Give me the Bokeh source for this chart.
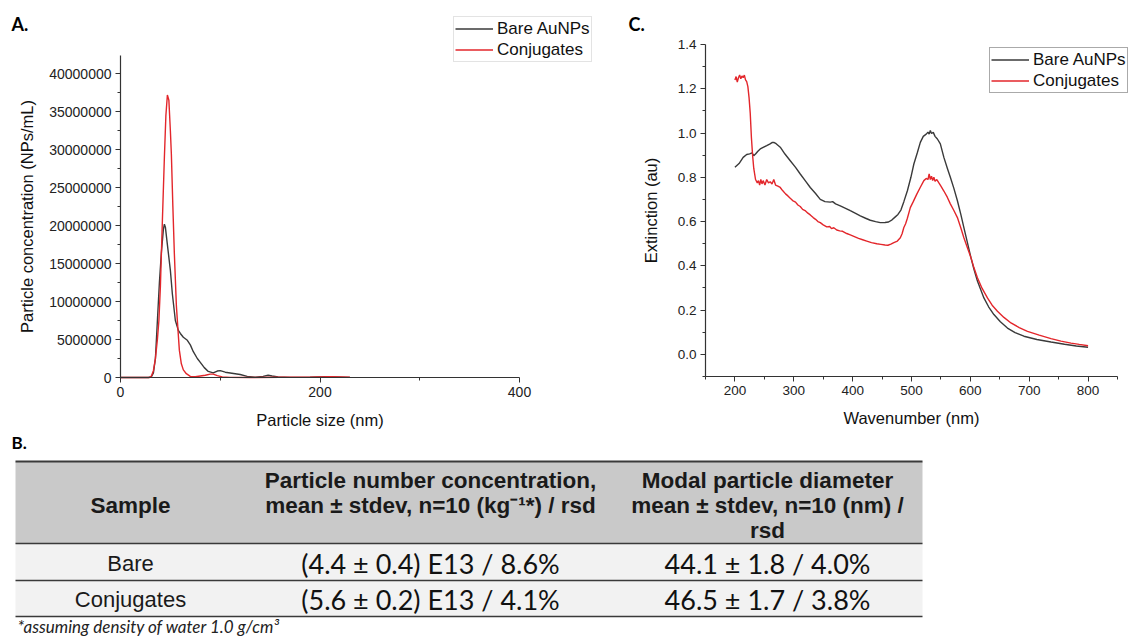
from bokeh.plotting import figure
from bokeh.models import Range1d, FixedTicker, NumeralTickFormatter, Legend, LegendItem, Label
from bokeh.layouts import column, row
from bokeh.embed import file_html
from bokeh.resources import INLINE
from bokeh.core.properties import value

# ---------------- Panel A data: particle size distribution ----------------
bare_size = [0, 28, 31, 33, 35, 37, 39, 41, 43, 44, 45, 47, 50, 52, 55, 58, 60, 63, 67, 70, 73,
             77, 80, 84, 88, 93, 97, 100, 105, 110, 115, 120, 127, 135, 143, 148, 152, 158, 170,
             190, 205, 215, 230]
bare_conc = [0, 0, 0.1e6, 0.6e6, 2.5e6, 7.5e6, 12.5e6, 16.5e6, 19.5e6, 20.2e6, 19.8e6, 17.5e6,
             14.1e6, 11.0e6, 7.5e6, 6.2e6, 5.8e6, 5.3e6, 4.9e6, 4.3e6, 3.4e6, 2.5e6, 2.0e6, 1.3e6,
             0.8e6, 0.6e6, 0.85e6, 0.9e6, 0.7e6, 0.6e6, 0.5e6, 0.4e6, 0.15e6, 0.05e6, 0.15e6, 0.3e6,
             0.2e6, 0.08e6, 0.02e6, 0.05e6, 0.1e6, 0.08e6, 0.02e6]
conj_size = [0, 29, 31, 33, 35, 37, 38.5, 40, 42, 44, 45.5, 47, 48.5, 50, 51, 52.5, 54, 56, 57.5,
             59, 61, 63, 66, 70, 75, 80, 85, 90, 93, 97, 102, 110, 130, 160, 190, 210, 230]
conj_conc = [0, 0, 0.2e6, 0.9e6, 2.5e6, 5.0e6, 7.5e6, 12e6, 20.7e6, 29e6, 34.5e6, 37.2e6, 36.5e6,
             32.5e6, 29.4e6, 22.5e6, 16.3e6, 9.5e6, 6.5e6, 3.6e6, 1.8e6, 1.0e6, 0.5e6, 0.15e6,
             0.1e6, 0.2e6, 0.3e6, 0.45e6, 0.45e6, 0.25e6, 0.08e6, 0.02e6, 0.0, 0.03e6, 0.05e6,
             0.1e6, 0.03e6]
a_yticks = [0, 5e6, 10e6, 15e6, 20e6, 25e6, 30e6, 35e6, 40e6]
a_xticks = [0, 200, 400]

# ---------------- Panel C data: extinction spectra ----------------
bare_wl = [200, 207, 214, 220, 225, 229, 232, 235, 239, 243, 248, 254, 259, 263, 266, 270, 277,
           285, 294, 303, 311, 320, 328, 337, 345, 353, 362, 366, 371, 379, 388, 396, 405, 413,
           422, 430, 439, 447, 455, 461, 467, 472, 477, 482, 487, 493, 499, 504, 510, 515, 520,
           525, 528, 530, 532, 534, 537, 540, 544, 549, 555, 561, 566, 572, 578, 584, 589, 595,
           601, 606, 612, 618, 623, 631, 640, 651, 663, 676, 691, 713, 737, 760, 780, 800]
bare_ext = [0.845, 0.862, 0.89, 0.903, 0.906, 0.91, 0.898, 0.905, 0.918, 0.928, 0.935, 0.943,
            0.95, 0.957, 0.958, 0.952, 0.936, 0.905, 0.875, 0.845, 0.815, 0.783, 0.754, 0.727,
            0.70, 0.69, 0.688, 0.69, 0.68, 0.671, 0.66, 0.649, 0.637, 0.626, 0.615, 0.606, 0.60,
            0.595, 0.596, 0.598, 0.608, 0.62, 0.632, 0.652, 0.69, 0.739, 0.80, 0.86, 0.912, 0.958,
            0.985, 0.995, 1.004, 0.995, 1.012, 0.998, 1.003, 0.985, 0.973, 0.951, 0.89, 0.84,
            0.80, 0.75, 0.694, 0.63, 0.573, 0.505, 0.437, 0.385, 0.331, 0.29, 0.255, 0.215, 0.18,
            0.147, 0.119, 0.098, 0.082, 0.067, 0.056, 0.046, 0.038, 0.032]
conj_wl = [200, 202, 204, 206, 208, 210, 212, 214, 216, 218, 220, 222, 224, 226, 228, 230, 232,
           235, 238, 240, 242, 244, 246, 248, 251, 254, 257, 260, 263, 266, 269, 273, 277, 281,
           286, 290, 294, 298, 303, 307, 311, 315, 320, 324, 328, 333, 337, 341, 345, 350, 356,
           361, 364, 368, 373, 378, 383, 390, 396, 403, 410, 417, 424, 432, 441, 448, 455, 460,
           465, 470, 476, 481, 484, 487, 490, 493, 498, 503, 509, 515, 521, 525, 528, 530, 532,
           534, 536, 538, 540, 543, 546, 550, 555, 561, 566, 572, 578, 584, 589, 595, 601, 606,
           612, 620, 629, 637, 646, 657, 669, 683, 697, 717, 737, 754, 771, 785, 800]
conj_ext = [1.24, 1.255, 1.23, 1.25, 1.262, 1.245, 1.258, 1.25, 1.262, 1.24, 1.232, 1.21, 1.16,
            1.09, 0.98, 0.90, 0.84, 0.79, 0.775, 0.785, 0.765, 0.79, 0.77, 0.785, 0.765, 0.79,
            0.775, 0.78, 0.77, 0.79, 0.765, 0.76, 0.754, 0.74, 0.725, 0.716, 0.705, 0.695, 0.688,
            0.675, 0.668, 0.655, 0.648, 0.638, 0.63, 0.618, 0.61, 0.60, 0.595, 0.585, 0.576,
            0.578, 0.568, 0.572, 0.562, 0.558, 0.556, 0.546, 0.54, 0.532, 0.524, 0.518, 0.512,
            0.505, 0.50, 0.497, 0.494, 0.493, 0.498, 0.505, 0.512, 0.527, 0.545, 0.573, 0.59,
            0.615, 0.663, 0.69, 0.724, 0.755, 0.785, 0.795, 0.79, 0.815, 0.79, 0.805, 0.785, 0.80,
            0.782, 0.79, 0.777, 0.76, 0.738, 0.709, 0.68, 0.65, 0.618, 0.57, 0.527, 0.482, 0.437,
            0.392, 0.346, 0.298, 0.255, 0.222, 0.195, 0.167, 0.142, 0.121, 0.104, 0.087, 0.071,
            0.06, 0.051, 0.045, 0.039]
c_xticks = [200, 300, 400, 500, 600, 700, 800]
c_yticks = [0.0, 0.2, 0.4, 0.6, 0.8, 1.0, 1.2, 1.4]

series_names = ["Bare AuNPs", "Conjugates"]

# ---------------- Panel B data: table ----------------
table_headers = [["Sample"],
                 ["Particle number concentration,", "mean \u00b1 stdev, n=10 (kg\u207b\u00b9*) / rsd"],
                 ["Modal particle diameter", "mean \u00b1 stdev, n=10 (nm) /", "rsd"]]
samples = ["Bare", "Conjugates"]
concentration = ["(4.4 \u00b1 0.4) E13 / 8.6%", "(5.6 \u00b1 0.2) E13 / 4.1%"]
diameter = ["44.1 \u00b1 1.8 / 4.0%", "46.5 \u00b1 1.7 / 3.8%"]
footnote = "*assuming density of water 1.0 g/cm\u00b3"

BLACK = "#3a3a3a"
RED = "#e3262b"
AXC = "#333333"


def frame_range(v0, p0, v1, p1, size, flip=False):
    """Range for a frame covering the whole canvas, given two (value, pixel) anchors.
    For y (flip=True) pixels count from the top."""
    k = (v1 - v0) / (p1 - p0)
    lo = v0 + (0 - p0) * k
    hi = v0 + (size - p0) * k
    return Range1d(hi, lo) if flip else Range1d(lo, hi)


def style_axes(p, tick_size):
    p.outline_line_color = None
    p.xgrid.visible = False
    p.ygrid.visible = False
    p.background_fill_color = "white"
    p.border_fill_color = "white"
    for ax in (p.xaxis[0], p.yaxis[0]):
        ax.axis_line_color = AXC
        ax.axis_line_width = 1.2
        ax.major_tick_line_color = AXC
        ax.minor_tick_line_color = AXC
        ax.major_tick_out = 5
        ax.major_tick_in = 0
        ax.minor_tick_out = 3
        ax.minor_tick_in = 0
        ax.major_label_text_font = "Liberation Sans"
        ax.major_label_text_font_size = tick_size
        ax.major_label_text_color = "#222222"
        ax.major_label_standoff = 4
        ax.axis_label_text_font = "Liberation Sans"
        ax.axis_label_text_font_size = "16.5px"
        ax.axis_label_text_font_style = "normal"
        ax.axis_label_text_color = "#111111"


def make_legend(p, renderers, loc, border):
    leg = Legend(items=[LegendItem(label=n, renderers=[r]) for n, r in zip(series_names, renderers)],
                 location=loc, orientation="vertical")
    leg.label_text_font = "Liberation Sans"
    leg.label_text_font_size = "17px"
    leg.label_text_color = "#111111"
    leg.glyph_width = 38
    leg.glyph_height = 21
    leg.label_height = 21
    leg.label_standoff = 4
    leg.spacing = 0
    leg.padding = 1
    leg.margin = 0
    leg.border_line_color = border
    leg.border_line_width = 1
    leg.background_fill_color = "white"
    leg.background_fill_alpha = 1
    p.add_layout(leg)


def panel_label(p, text, sx, sy_top, height):
    p.add_layout(Label(x=sx, y=height - sy_top, x_units="screen", y_units="screen", text=text,
                       text_font="Lato", text_font_style="bold", text_font_size="18px",
                       text_baseline="middle", text_color="#000000"))


# ---------------- Panel A ----------------
WA, HA = 600, 430
pA = figure(width=WA, height=HA,
            x_range=frame_range(0, 120, 400, 519, WA),
            y_range=frame_range(0, 377, 42.4e6, 55, HA, flip=True),
            output_backend="svg", toolbar_location=None, title=None, min_border=0)
style_axes(pA, "14px")
pA.xaxis[0].fixed_location = 0
pA.yaxis[0].fixed_location = 0
pA.xaxis[0].bounds = (0, 400)
pA.yaxis[0].bounds = (0, 42.4e6)
pA.xaxis[0].ticker = FixedTicker(ticks=a_xticks, minor_ticks=[100, 300])
pA.yaxis[0].ticker = FixedTicker(ticks=a_yticks,
                                 minor_ticks=[t + 2.5e6 for t in a_yticks[:-1]])
pA.yaxis[0].formatter = NumeralTickFormatter(format="0")
pA.xaxis[0].axis_label = "Particle size (nm)"
pA.yaxis[0].axis_label = "Particle concentration (NPs/mL)"
pA.xaxis[0].axis_label_standoff = 11
pA.yaxis[0].axis_label_standoff = 10
ra1 = pA.line(bare_size, bare_conc, line_color=BLACK, line_width=1.4)
ra2 = pA.line(conj_size, conj_conc, line_color=RED, line_width=1.4)
make_legend(pA, [ra1, ra2], (453, HA - 62), "#c8c8c8")
panel_label(pA, "A.", 11, 23, HA)

# ---------------- Panel C ----------------
WC, HC = 532, 430
pC = figure(width=WC, height=HC,
            x_range=frame_range(150, 105, 850, 517, WC),
            y_range=frame_range(-0.1, 376, 1.4, 44, HC, flip=True),
            output_backend="svg", toolbar_location=None, title=None, min_border=0)
style_axes(pC, "13.5px")
pC.xaxis[0].fixed_location = -0.1
pC.yaxis[0].fixed_location = 150
pC.xaxis[0].bounds = (150, 850)
pC.yaxis[0].bounds = (-0.1, 1.4)
pC.xaxis[0].ticker = FixedTicker(ticks=c_xticks, minor_ticks=[150 + 100 * i for i in range(8)])
pC.yaxis[0].ticker = FixedTicker(ticks=c_yticks,
                                 minor_ticks=[-0.1 + 0.2 * i for i in range(8)])
pC.yaxis[0].formatter = NumeralTickFormatter(format="0.0")
pC.xaxis[0].axis_label = "Wavenumber (nm)"
pC.yaxis[0].axis_label = "Extinction (au)"
pC.xaxis[0].axis_label_standoff = 11
pC.yaxis[0].axis_label_standoff = 15
rc1 = pC.line(bare_wl, bare_ext, line_color=BLACK, line_width=1.4)
rc2 = pC.line(conj_wl, conj_ext, line_color=RED, line_width=1.4)
make_legend(pC, [rc1, rc2], (389, HC - 93), "#555555")
panel_label(pC, "C.", 28, 23, HC)

# ---------------- Panel B: table ----------------
pT = figure(width=1132, height=207, x_range=Range1d(0, 1132), y_range=Range1d(637, 430),
            output_backend="svg", toolbar_location=None, title=None,
            x_axis_type=None, y_axis_type=None, min_border=0)
pT.outline_line_color = None
pT.xgrid.visible = False
pT.ygrid.visible = False

T_LEFT, T_RIGHT = 15, 922
row_edges = [461, 543, 580, 616]
col_centers = [130, 430, 767]

pT.quad(left=[T_LEFT], right=[T_RIGHT], top=[row_edges[0]], bottom=[row_edges[1]],
        fill_color="#c9c9c9", line_color=None)
pT.quad(left=[T_LEFT] * 2, right=[T_RIGHT] * 2, top=row_edges[1:3], bottom=row_edges[2:4],
        fill_color="#f2f2f2", line_color=None)
pT.segment(x0=[T_LEFT] * 4, x1=[T_RIGHT] * 4, y0=row_edges, y1=row_edges,
           line_color="#3a3a3a", line_width=[2, 1.5, 1.5, 1.5])

# header texts
hx, hy, ht = [], [], []
header_mid = 505
for c, lines in zip(col_centers, table_headers):
    n = len(lines)
    first = 480 if n > 1 else header_mid
    for i, line in enumerate(lines):
        hx.append(c)
        hy.append(first + 25 * i)
        ht.append(line)
pT.text(x=hx, y=hy, text=ht, text_font=value("Liberation Sans"), text_font_style="bold",
        text_font_size=value("22.5px"), text_align="center", text_baseline="middle",
        text_color="#1a1a1a")

row_mid = [(row_edges[i] + row_edges[i + 1]) / 2 + 1 for i in (1, 2)]
pT.text(x=[col_centers[0]] * 2, y=row_mid, text=samples, text_font=value("Liberation Sans"),
        text_font_size=value("22px"), text_align="center", text_baseline="middle",
        text_color="#1a1a1a")
pT.text(x=[col_centers[1]] * 2 + [col_centers[2]] * 2, y=row_mid + row_mid,
        text=concentration + diameter, text_font=value("Lato"),
        text_font_size=value("27px"), text_align="center", text_baseline="middle",
        text_color="#111111")
pT.text(x=[17], y=[626], text=[footnote], text_font=value("Lato"), text_font_style="italic",
        text_font_size=value("17px"), text_align="left", text_baseline="middle",
        text_color="#222222")
pT.text(x=[11], y=[442], text=["B."], text_font=value("Lato"), text_font_style="bold",
        text_font_size=value("17px"), text_align="left", text_baseline="middle",
        text_color="#000000")

layout = column(row(pA, pC, spacing=0), pT, spacing=0)
open("out.html", "w").write(file_html(layout, INLINE))
